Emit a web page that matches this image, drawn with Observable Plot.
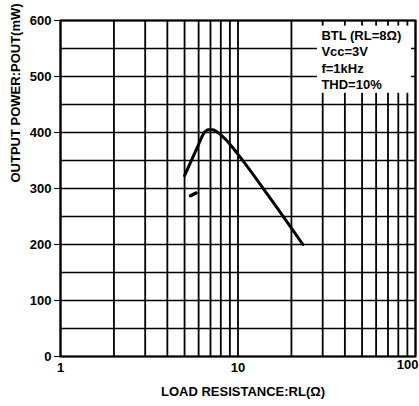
<!DOCTYPE html>
<html><head><meta charset="utf-8">
<script src="https://cdn.jsdelivr.net/npm/d3@7"></script>
<script src="https://cdn.jsdelivr.net/npm/@observablehq/plot@0.6"></script>
<style>
body{margin:0;background:#fff;}
#chart svg{font-family:"Liberation Sans",Arial,sans-serif;font-weight:bold;}
</style>
</head><body><div id="chart"></div>
<script>
// Curve: output power vs load resistance (BTL, Vcc=3V, f=1kHz, THD=10%)
const loadResistance = [5, 5.5, 6, 6.4, 6.8, 7.2, 7.7, 8.5, 10, 15, 23.2];
const outputPower    = [323, 352, 379, 398, 405, 405, 400, 388, 361, 285, 200];

// small stray mark near the curve start
const strayX = [5.4, 5.8];
const strayY = [287, 292];

const xGrid = [1,2,3,4,5,6,7,8,9,10,20,30,40,50,60,70,80,90,100];
const yGrid = [0,50,100,150,200,250,300,350,400,450,500,550,600];
const xTicks = [1, 10];
const xLastTick = [100];
const yTicks = [0, 100, 200, 300, 400, 500, 600];
const legendLines = ["BTL (RL=8Ω)", "Vcc=3V", "f=1kHz", "THD=10%"];
const legendBoxX = [28, 95];
const legendBoxY = [470, 590];
const xTitle = "LOAD RESISTANCE:RL(Ω)";
const yTitle = "OUTPUT POWER:POUT(mW)";

const curve = loadResistance.map((x, i) => ({x, y: outputPower[i]}));
const stray = strayX.map((x, i) => ({x, y: strayY[i]}));

const chart = Plot.plot({
  width: 419,
  height: 406,
  marginLeft: 60,
  marginRight: 4,
  marginTop: 20,
  marginBottom: 50,
  x: {type: "log", domain: [1, 100]},
  y: {domain: [0, 600]},
  style: {fontSize: "13px", background: "white"},
  marks: [
    Plot.ruleX(xGrid, {stroke: "black", strokeWidth: 1.8}),
    Plot.ruleY(yGrid, {stroke: "black", strokeWidth: 1.5}),
    Plot.rect([0], {x1: () => legendBoxX[0], x2: () => legendBoxX[1], y1: () => legendBoxY[0], y2: () => legendBoxY[1], fill: "white"}),
    Plot.text([legendLines.join("\n")], {x: () => legendBoxX[0] + 1.5, frameAnchor: "top", dy: 8, textAnchor: "start", lineAnchor: "top", lineHeight: 1.25, fontSize: 13, fontWeight: "bold", fill: "black"}),
    Plot.line(curve, {x: "x", y: "y", stroke: "black", strokeWidth: 3, curve: "monotone-x"}),
    Plot.line(stray, {x: "x", y: "y", stroke: "black", strokeWidth: 3.5}),
    Plot.frame({stroke: "black", strokeWidth: 2}),
    Plot.axisX(xTicks, {tickSize: 0, tickPadding: 6, tickFormat: d => String(d), fontSize: 13, fontWeight: "bold", label: null}),
    Plot.text(xLastTick, {x: d => d, frameAnchor: "bottom", dy: 12, dx: 3, textAnchor: "end", fontSize: 13, fontWeight: "bold", text: d => String(d)}),
    Plot.axisY(yTicks, {tickSize: 6, tickPadding: 3, tickFormat: d => String(d), fontSize: 13, fontWeight: "bold", label: null}),
    Plot.text([xTitle], {frameAnchor: "bottom", dy: 39, dx: 5, fontSize: 13, fontWeight: "bold"}),
    Plot.text([yTitle], {frameAnchor: "left", dx: -45, dy: -6, rotate: -90, fontSize: 13, fontWeight: "bold"})
  ]
});
document.getElementById("chart").appendChild(chart);
</script>
</body></html>
